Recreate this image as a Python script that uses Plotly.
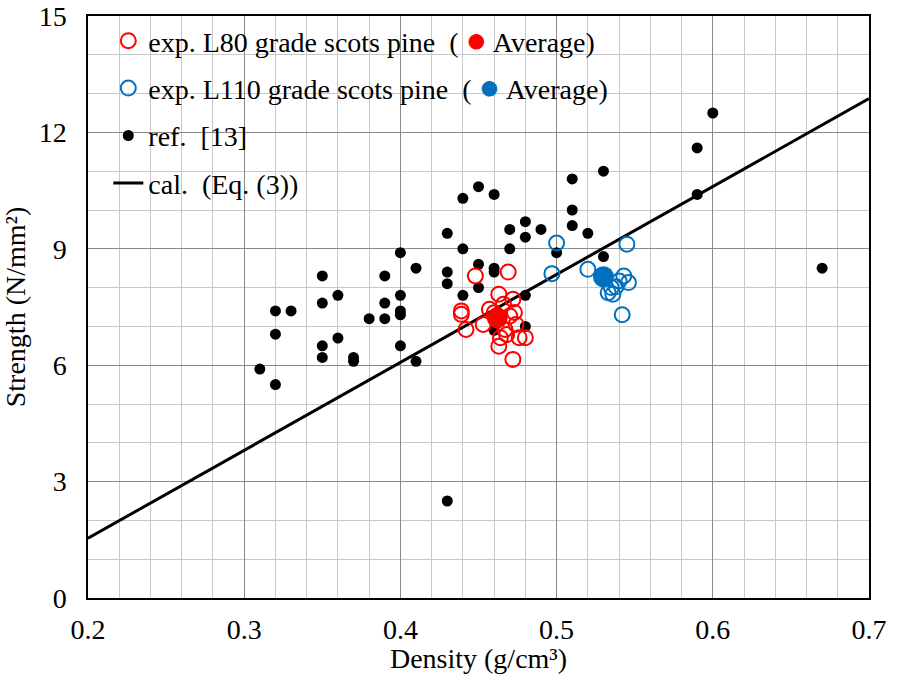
import plotly.graph_objects as go

# ---- data ----
ref_x = [0.31, 0.32, 0.32, 0.32, 0.33, 0.35, 0.35, 0.35, 0.35, 0.36, 0.36, 0.37, 0.37,
         0.38, 0.39, 0.39, 0.39, 0.40, 0.40, 0.40, 0.40, 0.40, 0.41, 0.41, 0.43, 0.43,
         0.43, 0.43, 0.44, 0.44, 0.44, 0.45, 0.45, 0.45, 0.46, 0.46, 0.46, 0.46, 0.47,
         0.47, 0.48, 0.48, 0.48, 0.48, 0.49, 0.50, 0.51, 0.51, 0.51, 0.52, 0.53, 0.53,
         0.59, 0.59, 0.60, 0.67]
ref_y = [5.9, 5.5, 6.8, 7.4, 7.4, 8.3, 7.6, 6.5, 6.2, 7.8, 6.7, 6.2, 6.1,
         7.2, 8.3, 7.6, 7.2, 8.9, 7.8, 7.4, 7.3, 6.5, 8.5, 6.1, 9.4, 8.4,
         8.1, 2.5, 10.3, 9.0, 7.8, 10.6, 8.6, 8.0, 10.4, 8.5, 8.4, 6.9, 9.5,
         9.0, 9.7, 9.3, 7.8, 7.0, 9.5, 8.9, 10.8, 10.0, 9.6, 9.4, 11.0, 8.8,
         11.6, 10.4, 12.5, 8.5]

l80_x = [0.448, 0.469, 0.463, 0.472, 0.439, 0.439, 0.442, 0.453, 0.457, 0.466, 0.470,
         0.473, 0.474, 0.476, 0.480, 0.468, 0.464, 0.463, 0.472, 0.467, 0.460]
l80_y = [8.30, 8.40, 7.83, 7.70, 7.40, 7.31, 6.92, 7.05, 7.44, 7.57, 7.27,
         7.36, 7.05, 6.71, 6.71, 6.79, 6.71, 6.49, 6.15, 6.92, 7.35]
l80_avg_x = [0.462]
l80_avg_y = [7.22]

l110_x = [0.500, 0.497, 0.520, 0.545, 0.543, 0.546, 0.540, 0.538, 0.533, 0.536, 0.542, 0.535]
l110_y = [9.15, 8.36, 8.47, 9.12, 8.30, 8.13, 8.17, 8.02, 7.87, 7.83, 7.30, 8.00]
l110_avg_x = [0.530]
l110_avg_y = [8.28]

cal_x = [0.2, 0.7]
cal_y = [1.54, 12.87]

RED = "#FF0000"
BLUE = "#0070C0"
FONT = "Times New Roman, Liberation Serif, serif"
FS = 28

fig = go.Figure()

fig.add_trace(go.Scatter(x=cal_x, y=cal_y, mode="lines", name="cal.  (Eq. (3))",
                         line=dict(color="black", width=3),
                         legendgroup="d", legendrank=4))
fig.add_trace(go.Scatter(x=ref_x, y=ref_y, mode="markers", name="ref.  [13]",
                         marker=dict(color="black", size=11),
                         legendgroup="c", legendrank=3))
fig.add_trace(go.Scatter(
    x=l80_x, y=l80_y, mode="markers",
    name="exp. L80 grade scots pine  ( <span style='color:#FF0000;font-size:36px'>●</span> Average)",
    marker=dict(symbol="circle-open", color=RED, size=15, line=dict(width=2)),
    legendgroup="a", legendrank=1))
fig.add_trace(go.Scatter(
    x=l110_x, y=l110_y, mode="markers",
    name="exp. L110 grade scots pine  ( <span style='color:#0070C0;font-size:36px'>●</span> Average)",
    marker=dict(symbol="circle-open", color=BLUE, size=15, line=dict(width=2)),
    legendgroup="b", legendrank=2))
fig.add_trace(go.Scatter(x=l80_avg_x, y=l80_avg_y, mode="markers", showlegend=False,
                         marker=dict(color=RED, size=21)))
fig.add_trace(go.Scatter(x=l110_avg_x, y=l110_avg_y, mode="markers", showlegend=False,
                         marker=dict(color=BLUE, size=21)))

axis_common = dict(
    showline=True, linecolor="black", linewidth=1.5, mirror=True,
    showgrid=True, gridcolor="#8a8a8a", gridwidth=1,
    ticks="", zeroline=False, automargin=False,
    tickfont=dict(family=FONT, size=FS, color="black"),
)

fig.update_xaxes(range=[0.2, 0.7], dtick=0.1, tick0=0.2, tickformat=".1f",
                 minor=dict(dtick=0.02, showgrid=True, gridcolor="#c8c8c8", gridwidth=1.3),
                 title=dict(text="Density (g/cm³)", font=dict(family=FONT, size=FS, color="black"),
                            standoff=5),
                 ticklabelstandoff=6,
                 **axis_common)
fig.update_yaxes(range=[0, 15], dtick=3, tick0=0,
                 minor=dict(dtick=1, showgrid=True, gridcolor="#c8c8c8", gridwidth=1.3),
                 title=dict(text="Strength (N/mm²)", font=dict(family=FONT, size=FS, color="black"),
                            standoff=6),
                 ticklabelstandoff=14,
                 **axis_common)

fig.update_layout(
    width=898, height=674,
    margin=dict(l=88, r=29, t=16, b=76),
    plot_bgcolor="white", paper_bgcolor="white",
    font=dict(family=FONT, size=FS, color="black"),
    legend=dict(x=0.026, y=1.0, xanchor="left", yanchor="top",
                bgcolor="rgba(0,0,0,0)", traceorder="grouped", tracegroupgap=8,
                font=dict(family=FONT, size=FS, color="black")),
)

fig.write_html("out.html", config={"displayModeBar": False},
               post_script="document.body.style.margin='0';")
